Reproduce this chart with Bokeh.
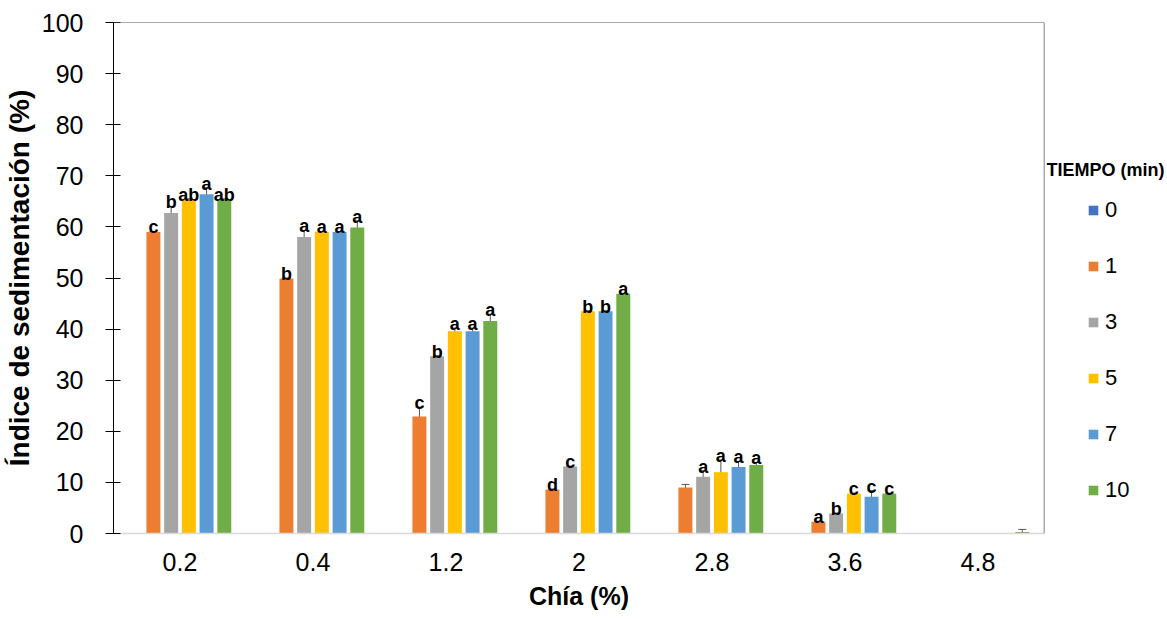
from bokeh.plotting import figure
from bokeh.layouts import row
from bokeh.models import (ColumnDataSource, FactorRange, Range1d, Whisker, TeeHead,
                          Legend, LegendItem, Label, Span, SingleIntervalTicker)
from bokeh.transform import dodge
from bokeh.core.properties import value
from bokeh.embed import file_html
from bokeh.resources import INLINE

# ---------------- data ----------------
categories = ["0.2", "0.4", "1.2", "2", "2.8", "3.6", "4.8"]
series_names = ["0", "1", "3", "5", "7", "10"]
colors = ["#4472C4", "#ED7D31", "#A5A5A5", "#FFC000", "#5B9BD5", "#70AD47"]

t0 = [0, 0, 0, 0, 0, 0, 0]
t1 = [59.0, 49.9, 22.9, 8.6, 9.0, 2.3, 0]
t3 = [62.7, 58.0, 34.7, 13.1, 11.1, 3.9, 0]
t5 = [65.4, 59.0, 39.6, 43.5, 12.0, 7.8, 0]
t7 = [66.4, 59.0, 39.6, 43.5, 13.0, 7.2, 0]
t10 = [65.4, 59.9, 41.6, 46.9, 13.4, 7.8, 0.3]

# standard deviations (None = no error bar)
e0 = [None, None, None, None, None, None, None]
e1 = [0.1, 0.1, 1.85, 0.1, 0.6, 0.1, None]
e3 = [1.3, 1.3, 0.1, 0.1, 1.2, 0.1, None]
e5 = [0.1, 0.1, 0.6, 0.1, 2.4, 0.1, None]
e7 = [1.3, 0.1, 0.6, 0.1, 1.1, 1.2, None]
e10 = [0.1, 1.3, 1.3, 0.1, 0.5, 0.1, 0.5]

# significance letters
l0 = ["", "", "", "", "", "", ""]
l1 = ["c", "b", "c", "d", "", "a", ""]
l3 = ["b", "a", "b", "c", "a", "b", ""]
l5 = ["ab", "a", "a", "b", "a", "c", ""]
l7 = ["a", "a", "a", "b", "a", "c", ""]
l10 = ["ab", "a", "a", "a", "a", "c", ""]

values = [t0, t1, t3, t5, t7, t10]
errors = [e0, e1, e3, e5, e7, e10]
letters = [l0, l1, l3, l5, l7, l10]

FONT = "Liberation Sans"

p = figure(x_range=FactorRange(factors=categories, range_padding=0),
           y_range=Range1d(0, 100),
           width=1046, height=619,
           min_border_left=109, min_border_right=2,
           min_border_top=22, min_border_bottom=86,
           output_backend="svg", toolbar_location=None)

p.outline_line_color = None
p.xgrid.grid_line_color = None
p.ygrid.grid_line_color = None
p.background_fill_color = "white"
p.border_fill_color = "white"

pitch = 0.1332
bar_w = 0.105
for i, (name, vals, errs, labs, col) in enumerate(zip(series_names, values, errors, letters, colors)):
    off = (i - 2.5) * pitch
    src = ColumnDataSource(dict(cat=categories, top=vals))
    p.vbar(x=dodge("cat", off, range=p.x_range), top="top", width=bar_w, source=src,
           fill_color=col, line_color=None)

    wc, wl, wu = [], [], []
    for c, v, e in zip(categories, vals, errs):
        if e is not None:
            wc.append(c); wl.append(v - e); wu.append(v + e)
    if wc:
        wsrc = ColumnDataSource(dict(cat=wc, lower=wl, upper=wu))
        w = Whisker(base=dodge("cat", off, range=p.x_range), lower="lower", upper="upper",
                    source=wsrc, line_color="#595959", line_width=1,
                    upper_head=TeeHead(size=8, line_color="#595959", line_width=1),
                    lower_head=TeeHead(size=8, line_color="#595959", line_width=1))
        p.add_layout(w)

    ly = [v + (e if e is not None else 0) for v, e in zip(vals, errs)]
    tsrc = ColumnDataSource(dict(cat=categories, y=ly, lab=labs))
    p.text(x=dodge("cat", off, range=p.x_range), y="y", text="lab", source=tsrc,
           text_font=value(FONT), text_font_style="bold", text_font_size="18px",
           text_align="center", text_baseline="alphabetic", y_offset=-4, text_color="black")

# frame lines top & right
p.add_layout(Span(location=100, dimension="width", line_color="#595959", line_width=1.2))
p.add_layout(Span(location=len(categories), dimension="height", line_color="#595959", line_width=1.5))

# axes
p.yaxis.ticker = SingleIntervalTicker(interval=10)
p.yaxis.axis_line_color = "black"
p.yaxis.major_tick_line_color = "black"
p.yaxis.major_tick_in = 7
p.yaxis.major_tick_out = 8
p.yaxis.minor_tick_line_color = None
p.yaxis.major_label_text_font = FONT
p.yaxis.major_label_text_font_size = "25px"
p.yaxis.major_label_text_color = "black"
p.yaxis.major_label_standoff = 22
p.yaxis.axis_label = "Índice de sedimentación (%)"
p.yaxis.axis_label_text_font = FONT
p.yaxis.axis_label_text_font_size = "28px"
p.yaxis.axis_label_text_font_style = "bold"
p.yaxis.axis_label_text_color = "black"
p.yaxis.axis_label_standoff = 4

p.xaxis.axis_line_color = "#D9D9D9"
p.xaxis.axis_line_width = 1.5
p.xaxis.major_tick_line_color = None
p.xaxis.major_tick_in = 0
p.xaxis.major_tick_out = 0
p.xaxis.major_label_text_font = FONT
p.xaxis.major_label_text_font_size = "25px"
p.xaxis.major_label_text_color = "black"
p.xaxis.major_label_standoff = 19
p.xaxis.axis_label = "Chía (%)"
p.xaxis.axis_label_text_font = FONT
p.xaxis.axis_label_text_font_size = "25px"
p.xaxis.axis_label_text_font_style = "bold"
p.xaxis.axis_label_text_color = "black"
p.xaxis.axis_label_standoff = 8

# ---------------- legend panel ----------------
pl = figure(width=121, height=619, x_range=Range1d(0, 1), y_range=Range1d(0, 1),
            x_axis_type=None, y_axis_type=None, min_border=0,
            output_backend="svg", toolbar_location=None)
pl.outline_line_color = None
pl.grid.visible = False
pl.background_fill_color = "white"
pl.border_fill_color = "white"

# zero-height proxy bars, only used to supply legend swatches
legend_renderers = []
for name, col in zip(series_names, colors):
    psrc = ColumnDataSource(dict(x=[0.5], top=[0], bottom=[0]))
    r = pl.vbar(x="x", top="top", bottom="bottom", width=0.1, source=psrc,
                fill_color=col, line_color=None)
    legend_renderers.append(r)

legend = Legend(items=[LegendItem(label=n, renderers=[r]) for n, r in zip(series_names, legend_renderers)],
                location=(41, 29), padding=0, margin=0, spacing=28,
                glyph_width=12, glyph_height=12, label_height=28, label_standoff=6,
                label_text_font=FONT, label_text_font_size="22px", label_text_color="black",
                border_line_color=None, background_fill_alpha=0)
pl.add_layout(legend)

pl.add_layout(Label(x=0, y=364, x_units="screen", y_units="screen", text="TIEMPO (min)",
                    text_font=FONT, text_font_size="18px", text_font_style="bold",
                    text_color="black", text_baseline="alphabetic"))

layout = row(p, pl)
open("out.html", "w").write(file_html(layout, INLINE))
